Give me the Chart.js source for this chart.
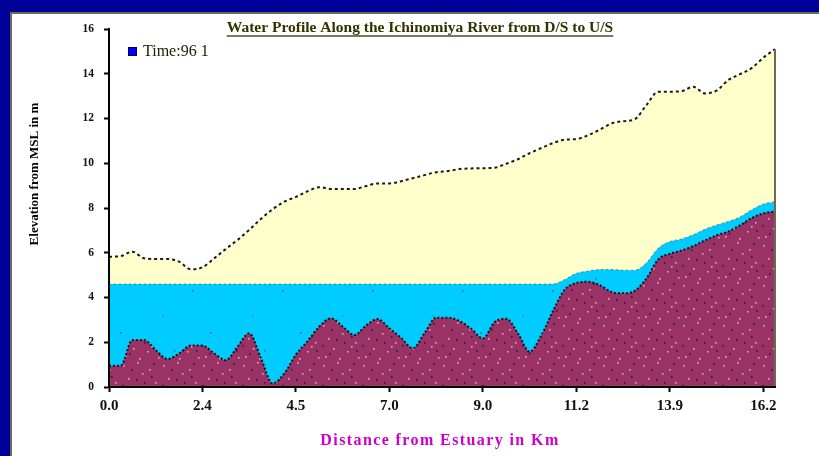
<!DOCTYPE html>
<html>
<head>
<meta charset="utf-8">
<script src="https://cdn.jsdelivr.net/npm/chart.js@4.4.1/dist/chart.umd.min.js"></script>
<style>
  html, body { margin: 0; padding: 0; background: #000099; }
  #wrap { position: relative; width: 819px; height: 456px; }
  canvas { display: block; }
</style>
</head>
<body>
<div id="wrap"><canvas id="profile" width="819" height="456"></canvas></div>
<script>
// Distance labels shown every 8th survey station (km from the estuary)
const tickLabels = ['0.0', '2.4', '4.5', '7.0', '9.0', '11.2', '13.9', '16.2'];

// River bed elevation at each station (m)
const bedElevation = [
  0.95, 0.95, 2.10, 2.10, 1.65, 1.25, 1.50, 1.85, 1.85, 1.50,
  1.20, 1.80, 2.40, 1.30, 0.16, 0.60, 1.45, 2.05, 2.70, 3.07,
  2.70, 2.32, 2.75, 3.04, 2.62, 2.20, 1.73, 2.40, 3.10, 3.10,
  2.95, 2.60, 2.17, 2.90, 3.05, 2.40, 1.58, 2.30, 3.40, 4.35,
  4.65, 4.70, 4.55, 4.25, 4.19, 4.30, 4.85, 5.70, 5.95, 6.10,
  6.30, 6.55, 6.78, 6.95, 7.22, 7.55, 7.76, 7.85
];

// Water surface elevation at each station (m)
const waterLevel = [
  4.60, 4.60, 4.60, 4.60, 4.60, 4.60, 4.60, 4.60, 4.60, 4.60,
  4.60, 4.60, 4.60, 4.60, 4.60, 4.60, 4.60, 4.60, 4.60, 4.60,
  4.60, 4.60, 4.60, 4.60, 4.60, 4.60, 4.60, 4.60, 4.60, 4.60,
  4.60, 4.60, 4.60, 4.60, 4.60, 4.60, 4.60, 4.60, 4.60, 4.80,
  5.08, 5.18, 5.25, 5.25, 5.22, 5.22, 5.55, 6.20, 6.50, 6.62,
  6.80, 7.05, 7.24, 7.40, 7.60, 7.92, 8.18, 8.28
];

// Bank (levee crown) elevation at each station (m)
const bankElevation = [
  5.82, 5.85, 6.05, 5.75, 5.72, 5.72, 5.60, 5.26, 5.35, 5.75,
  6.17, 6.57, 7.02, 7.51, 7.94, 8.28, 8.50, 8.75, 8.93, 8.85,
  8.85, 8.85, 8.98, 9.10, 9.10, 9.20, 9.33, 9.47, 9.60, 9.65,
  9.74, 9.77, 9.78, 9.80, 9.98, 10.18, 10.45, 10.68, 10.90, 11.05,
  11.08, 11.25, 11.50, 11.78, 11.88, 11.97, 12.60, 13.20, 13.20, 13.22,
  13.42, 13.12, 13.25, 13.72, 13.98, 14.25, 14.72, 15.10
];

const LABEL_EVERY = 8;
const stationLabels = bedElevation.map((_, i) =>
  i % LABEL_EVERY === 0 ? tickLabels[i / LABEL_EVERY] : '');

const SERIF = '"Liberation Serif", "Times New Roman", serif';

// Speckled fill textures for the bed and water areas
function speckle(size, base, dots, dot) {
  const c = document.createElement('canvas');
  c.width = c.height = size;
  const g = c.getContext('2d');
  g.fillStyle = base;
  g.fillRect(0, 0, size, size);
  dots.forEach(([x, y, col]) => { g.fillStyle = col; g.fillRect(x, y, dot, dot); });
  return g.createPattern(c, 'repeat');
}
const PINK = '#e8a6b8', PURPLE = '#3a0c5c';
const bedFill = speckle(40, '#993366', [
  [3, 5, PINK], [17, 2, PINK], [29, 9, PINK], [8, 18, PINK], [22, 13, PINK],
  [35, 22, PINK], [13, 28, PINK], [27, 31, PINK], [5, 36, PINK], [38, 37, PINK],
  [19, 38, PINK], [31, 26, PINK],
  [11, 9, PURPLE], [33, 3, PURPLE], [2, 25, PURPLE], [24, 22, PURPLE],
  [16, 19, PURPLE], [31, 16, PURPLE], [9, 33, PURPLE], [36, 30, PURPLE]
], 1.6);
const waterFill = speckle(90, '#00ccff', [
  [12, 20, '#2f6c8c'], [55, 8, '#2f6c8c'], [30, 62, '#2f6c8c'],
  [72, 45, '#4a8aa0'], [84, 80, '#2f6c8c']
], 1.6);

// White framed panel on the navy page
const panelPlugin = {
  id: 'panel',
  beforeDraw(chart) {
    const { ctx, width, height } = chart;
    ctx.save();
    ctx.fillStyle = '#000099';
    ctx.fillRect(0, 0, width, height);
    ctx.fillStyle = '#ffffff';
    ctx.fillRect(10, 12, width - 10, height - 12);
    ctx.strokeStyle = '#6e6e58';
    ctx.lineWidth = 2;
    ctx.beginPath();
    ctx.moveTo(11, height);
    ctx.lineTo(11, 13);
    ctx.lineTo(width, 13);
    ctx.stroke();
    ctx.restore();
  }
};

// Closing edge of the area at the upstream end
const edgePlugin = {
  id: 'edge',
  afterDatasetsDraw(chart) {
    const { ctx, scales: { x, y } } = chart;
    const last = bankElevation.length - 1;
    const px = x.getPixelForValue(last);
    ctx.save();
    ctx.strokeStyle = '#6b6b50';
    ctx.lineWidth = 2;
    ctx.beginPath();
    ctx.moveTo(px, y.getPixelForValue(bankElevation[last]));
    ctx.lineTo(px, y.getPixelForValue(0));
    ctx.stroke();
    ctx.restore();
  }
};

// Title, legend and axis captions
const textPlugin = {
  id: 'captions',
  afterDraw(chart) {
    const { ctx } = chart;
    ctx.save();

    const title = 'Water Profile Along the Ichinomiya River from D/S to U/S';
    ctx.font = 'bold 15.5px ' + SERIF;
    ctx.fillStyle = '#333300';
    ctx.textAlign = 'center';
    ctx.textBaseline = 'middle';
    ctx.fillText(title, 420, 28);
    const tw = ctx.measureText(title).width;
    ctx.strokeStyle = '#4d4d26';
    ctx.lineWidth = 1.5;
    ctx.beginPath();
    ctx.moveTo(420 - tw / 2, 36);
    ctx.lineTo(420 + tw / 2, 36);
    ctx.stroke();

    ctx.fillStyle = '#0000ff';
    ctx.fillRect(128, 47, 9, 9);
    ctx.strokeStyle = '#000055';
    ctx.lineWidth = 1;
    ctx.strokeRect(128.5, 47.5, 8, 8);
    ctx.font = '16px ' + SERIF;
    ctx.fillStyle = '#222200';
    ctx.textAlign = 'left';
    ctx.fillText('Time:96 1', 143, 52);

    ctx.font = 'bold 16px ' + SERIF;
    ctx.letterSpacing = '1.4px';
    ctx.fillStyle = '#cc00cc';
    ctx.textAlign = 'center';
    ctx.fillText('Distance from Estuary in Km', 440, 441);
    ctx.letterSpacing = '0px';

    ctx.translate(35, 174);
    ctx.rotate(-Math.PI / 2);
    ctx.font = 'bold 13px ' + SERIF;
    ctx.fillStyle = '#000000';
    ctx.fillText('Elevation from MSL in m', 0, 0);
    ctx.restore();
  }
};

new Chart(document.getElementById('profile'), {
  type: 'line',
  data: {
    labels: stationLabels,
    datasets: [
      {
        label: 'Bed',
        data: bedElevation,
        fill: 'origin',
        backgroundColor: bedFill,
        borderColor: '#141414',
        borderWidth: 2,
        borderDash: [2, 2],
        pointRadius: 0,
        cubicInterpolationMode: 'monotone'
      },
      {
        label: 'Water',
        data: waterLevel,
        fill: 'origin',
        backgroundColor: waterFill,
        borderColor: 'rgba(50,60,60,0.55)',
        borderWidth: 1,
        borderDash: [2, 3],
        pointRadius: 0,
        cubicInterpolationMode: 'monotone'
      },
      {
        label: 'Bank',
        data: bankElevation,
        fill: 'origin',
        backgroundColor: '#ffffcc',
        borderColor: '#1a1a1a',
        borderWidth: 2,
        borderDash: [3, 3],
        pointRadius: 0,
        cubicInterpolationMode: 'monotone'
      }
    ]
  },
  options: {
    responsive: false,
    animation: false,
    layout: { padding: { top: 29, right: 44, left: 0, bottom: 0 } },
    plugins: {
      legend: { display: false },
      title: { display: false },
      tooltip: { enabled: false }
    },
    scales: {
      x: {
        type: 'category',
        offset: false,
        grid: {
          drawOnChartArea: false,
          drawTicks: true,
          tickLength: 5,
          tickWidth: 2,
          tickColor: (c) => (c.index % LABEL_EVERY === 0 ? '#000000' : 'rgba(0,0,0,0)')
        },
        border: { color: '#000000', width: 2, z: 1 },
        ticks: {
          autoSkip: false,
          maxRotation: 0,
          padding: 5,
          color: '#111111',
          font: { family: SERIF, size: 15, weight: 'bold' }
        },
        afterFit(scale) { scale.height = 69; }
      },
      y: {
        min: 0,
        max: 16,
        grid: {
          drawOnChartArea: false,
          drawTicks: true,
          tickLength: 5,
          tickWidth: 2,
          tickColor: '#000000'
        },
        border: { color: '#000000', width: 2, z: 1 },
        ticks: {
          stepSize: 2,
          padding: 10,
          color: '#111111',
          font: { family: SERIF, size: 11.5, weight: 'bold' }
        },
        afterFit(scale) { scale.width = 109; }
      }
    }
  },
  plugins: [panelPlugin, edgePlugin, textPlugin]
});
</script>
</body>
</html>
